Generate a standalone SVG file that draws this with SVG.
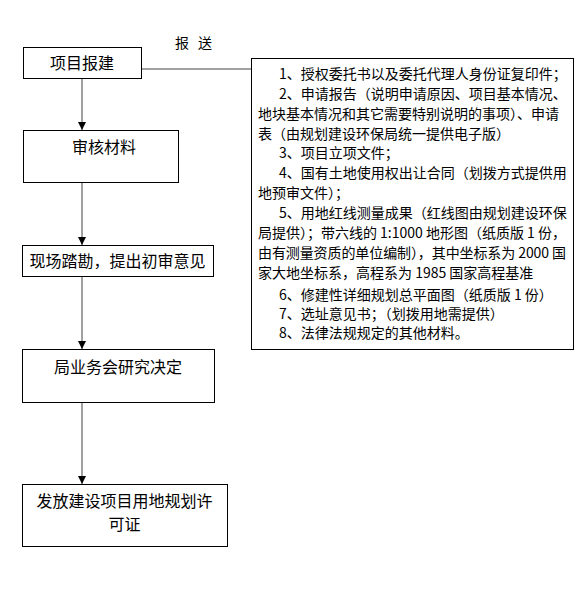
<svg xmlns="http://www.w3.org/2000/svg" width="587" height="597" viewBox="0 0 587 597">
<defs>
<style>
.box{fill:#fff;stroke:#000;stroke-width:1}
.t{font-family:"Noto Sans CJK SC","Liberation Sans",sans-serif;font-size:16px;fill:#000}
.s{font-family:"Noto Sans CJK SC","Liberation Sans",sans-serif;font-size:14px;fill:#000}
.c{stroke:#808080;stroke-width:1.5;fill:none}
</style>
<marker id="ah" markerWidth="8" markerHeight="8" refX="8" refY="4" orient="auto" markerUnits="userSpaceOnUse">
<path d="M0,0 L8,4 L0,8 Z" fill="#000"/>
</marker>
</defs>
<rect width="587" height="597" fill="#fff"/>
<g id="connectors">
<line class="c" x1="82" y1="78" x2="82" y2="130" marker-end="url(#ah)"/>
<line class="c" x1="82" y1="182" x2="82" y2="245" marker-end="url(#ah)"/>
<line class="c" x1="82" y1="276" x2="82" y2="349" marker-end="url(#ah)"/>
<line class="c" x1="82" y1="402" x2="82" y2="484" marker-end="url(#ah)"/>
<line class="c" x1="142" y1="69" x2="251" y2="69"/>
</g>
<g id="label-baosong"><text class="s" y="48"><tspan x="175">报</tspan><tspan x="198">送</tspan></text></g>
<g id="n1"><rect class="box" x="23.5" y="47.5" width="118" height="31"/><text class="t" x="82" y="69" text-anchor="middle">项目报建</text></g>
<g id="n2"><rect class="box" x="23.5" y="130.5" width="155" height="52"/><text class="t" x="104" y="152.5" text-anchor="middle">审核材料</text></g>
<g id="n3"><rect class="box" x="22.5" y="245.5" width="191" height="31"/><text class="t" x="117.5" y="266.5" text-anchor="middle">现场踏勘，提出初审意见</text></g>
<g id="n4"><rect class="box" x="22.5" y="349.5" width="192" height="53"/><text class="t" x="118" y="372.5" text-anchor="middle">局业务会研究决定</text></g>
<g id="n5"><rect class="box" x="22.5" y="484.5" width="205" height="62"/><text class="t" x="124.5" y="506.5" text-anchor="middle">发放建设项目用地规划许</text><text class="t" x="124.5" y="529.8" text-anchor="middle">可证</text></g>
<g id="materials">
<rect class="box" x="251.5" y="58.5" width="322" height="291"/>
<text class="s">
<tspan x="279" y="79">1、授权委托书以及委托代理人身份证复印件；</tspan>
<tspan x="279" y="98.8">2、申请报告（说明申请原因、项目基本情况、</tspan>
<tspan x="258" y="118.7">地块基本情况和其它需要特别说明的事项）、申请</tspan>
<tspan x="258" y="138.5">表（由规划建设环保局统一提供电子版）</tspan>
<tspan x="279" y="158.4">3、项目立项文件；</tspan>
<tspan x="279" y="178.2">4、国有土地使用权出让合同（划拨方式提供用</tspan>
<tspan x="258" y="198.1">地预审文件）；</tspan>
<tspan x="279" y="218">5、用地红线测量成果（红线图由规划建设环保</tspan>
</text>
<text class="s" x="258" y="237.8" textLength="308" lengthAdjust="spacing">局提供）；带六线的 1:1000 地形图（纸质版 1 份，</text>
<text class="s" x="258" y="257.7" textLength="308" lengthAdjust="spacing">由有测量资质的单位编制），其中坐标系为 2000 国</text>
<text class="s">
<tspan x="258" y="277.5">家大地坐标系，高程系为 1985 国家高程基准</tspan>
<tspan x="279" y="300">6、修建性详细规划总平面图（纸质版 1 份）</tspan>
<tspan x="279" y="319">7、选址意见书；（划拨用地需提供）</tspan>
<tspan x="279" y="338">8、法律法规规定的其他材料。</tspan>
</text>
</g>
</svg>
